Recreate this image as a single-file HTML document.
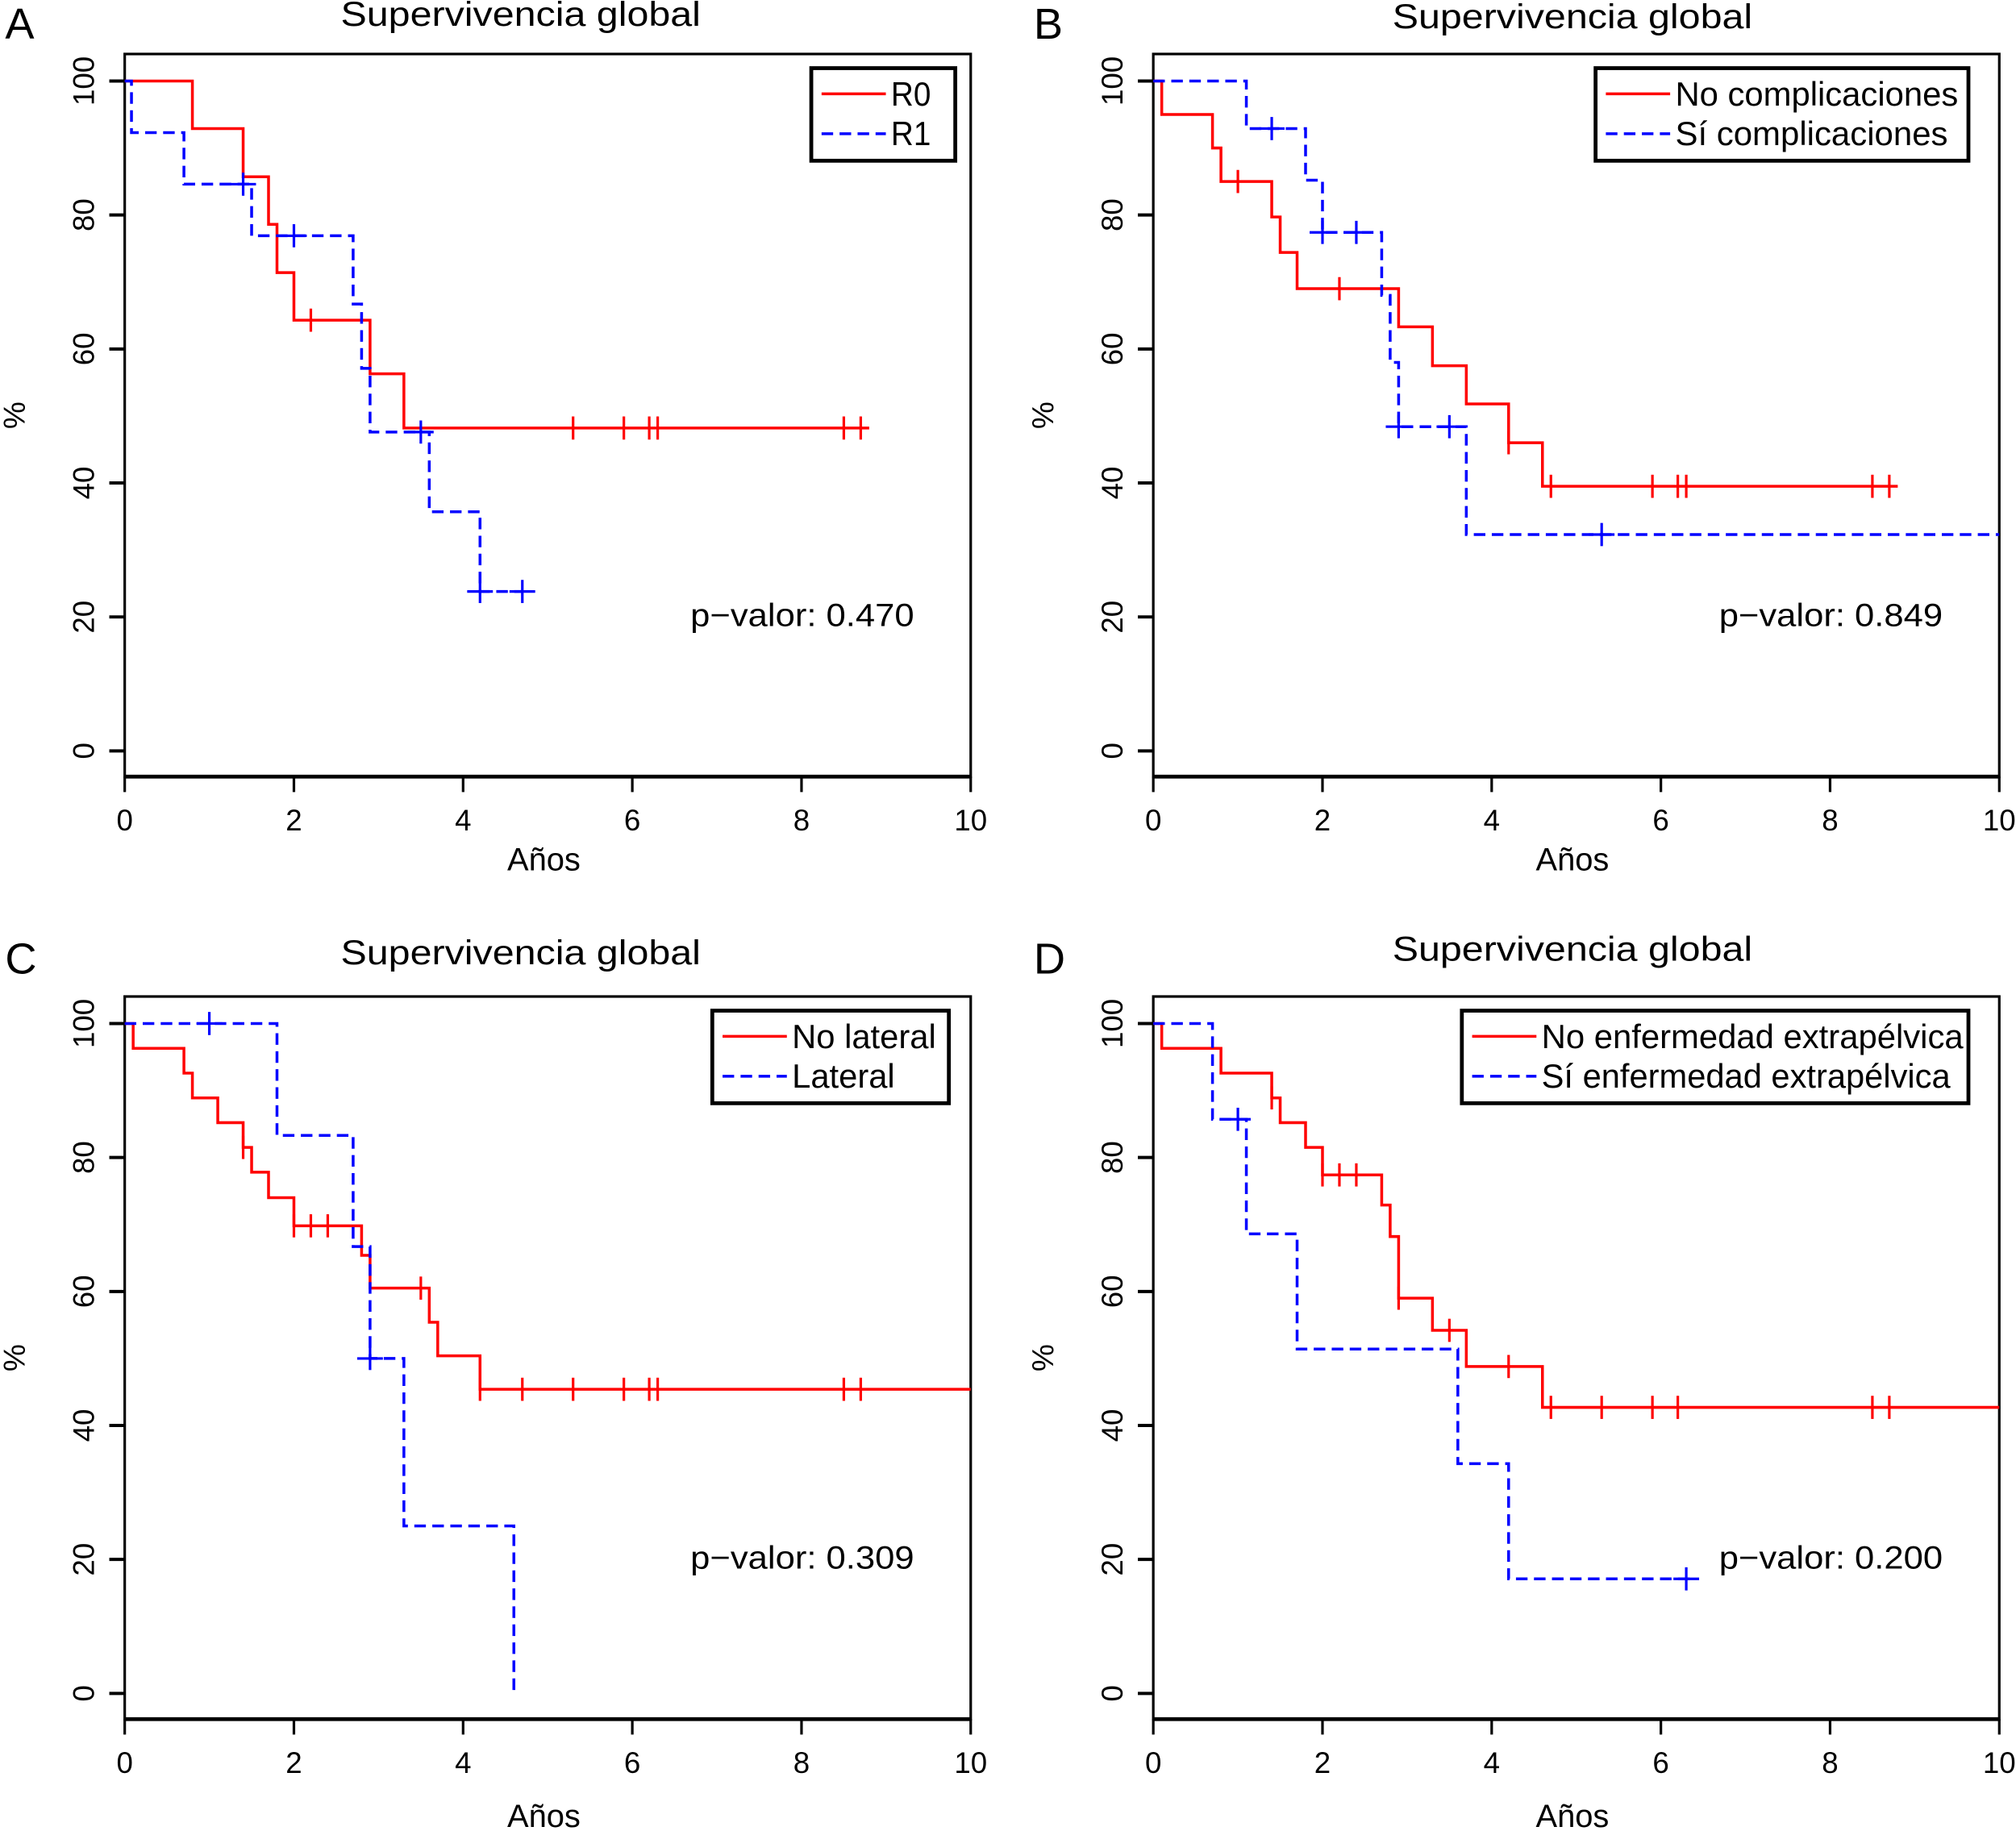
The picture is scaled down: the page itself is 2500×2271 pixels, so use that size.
<!DOCTYPE html>
<html><head><meta charset="utf-8"><style>
html,body{margin:0;padding:0;background:#fff}
svg{display:block}
text{font-family:"Liberation Sans",sans-serif;fill:#000}
</style></head><body>
<svg id="chart" width="2500" height="2271" viewBox="0 0 1568 1424" preserveAspectRatio="none" xmlns="http://www.w3.org/2000/svg"></svg>
<script>
// ---- data: each series = drop times, levels after drop, end time, censor times ----
const aR0Times=[0.8,1.4,1.7,1.8,2.0,2.9,3.3];
const aR0Vals=[92.9,85.7,78.6,71.4,64.3,56.3,48.2];
const aR0End=8.8;
const aR0Cens=[2.2,5.3,5.9,6.2,6.3,8.5,8.7];
const aR1Times=[0.08,0.7,1.5,2.7,2.8,2.9,3.6,4.2];
const aR1Vals=[92.3,84.6,76.9,66.7,57.1,47.6,35.7,23.8];
const aR1End=4.7;
const aR1Cens=[1.4,2.0,3.5,4.2,4.7];

const bNoTimes=[0.1,0.7,0.8,1.4,1.5,1.7,2.9,3.3,3.7,4.2,4.6];
const bNoVals=[95,90,85,79.7,74.4,69,63.3,57.5,51.8,46,39.5];
const bNoEnd=8.8;
const bNoCens=[1.0,2.2,4.2,4.7,5.9,6.2,6.3,8.5,8.7];
const bSiTimes=[1.1,1.8,2.0,2.7,2.8,2.9,3.7];
const bSiVals=[92.9,85.2,77.4,68,58,48.4,32.3];
const bSiEnd=10;
const bSiCens=[1.4,2.0,2.4,2.9,3.5,5.3];

const cNoTimes=[0.1,0.7,0.8,1.1,1.4,1.5,1.7,2.0,2.8,2.9,3.6,3.7,4.2];
const cNoVals=[96.3,92.6,88.9,85.2,81.5,77.8,74,69.8,65.4,60.5,55.4,50.4,45.4];
const cNoEnd=10;
const cNoCens=[1.4,2.0,2.2,2.4,3.5,4.2,4.7,5.3,5.9,6.2,6.3,8.5,8.7];
const cLaTimes=[1.8,2.7,2.8,2.9,3.3,4.6];
const cLaVals=[83.3,66.7,66.7,50,25,0];
const cLaEnd=4.6;
const cLaCens=[1.0,2.9];

const dNoTimes=[0.1,0.8,1.4,1.5,1.8,2.0,2.7,2.8,2.9,3.3,3.7,4.6];
const dNoVals=[96.3,92.6,88.9,85.2,81.5,77.4,72.9,68.2,59,54.2,48.8,42.7];
const dNoEnd=10;
const dNoCens=[1.4,2.0,2.2,2.4,2.9,3.5,4.2,4.7,5.3,5.9,6.2,8.5,8.7];
const dSiTimes=[0.7,1.1,1.7,3.6,4.2];
const dSiVals=[85.7,68.6,51.4,34.3,17.1];
const dSiEnd=6.4;
const dSiCens=[1.0,6.3];

const xTicks=[0,2,4,6,8,10];
const yTicks=[0,20,40,60,80,100];

const NS="http://www.w3.org/2000/svg";
const svg=document.getElementById('chart');
function mk(tag,attrs,parent){const e=document.createElementNS(NS,tag);for(const k in attrs)e.setAttribute(k,attrs[k]);(parent||svg).appendChild(e);return e;}
function txt(s,x,y,size,parent,extra){const t=mk('text',Object.assign({x:x,y:y,'font-size':size},extra||{}),parent);t.textContent=s;return t;}

function panel(o){
  const g=mk('g',{});
  
  
  const L=o.x0, R=o.x0+658, T=o.top, B=o.top+562;
  const y100=T+21, y0=T+542;
  const X=v=>L+v*65.8, Y=v=>y0-(v/100)*(y0-y100);
  const lt=txt(o.id,o.x0-93,o.letterY,34,g);
  
  
  const tt=txt('Supervivencia global',o.titleX,o.titleY,27,g,{'text-anchor':'middle',textLength:280,lengthAdjust:'spacingAndGlyphs'});
  
  
  const box=mk('rect',{x:L,y:T,width:658,height:562,fill:'none',stroke:'#000','stroke-width':2},g);
  
  
  mk('line',{x1:L,x2:R,y1:B,y2:B,stroke:'#000','stroke-width':3},g);
  yTicks.forEach(v=>{
    mk('line',{x1:L-12,x2:L,y1:Y(v),y2:Y(v),stroke:'#000','stroke-width':2.5},g);
    const t=txt(String(v),0,0,23,g,{'text-anchor':'middle',transform:`translate(${L-24},${Y(v)}) rotate(-90)`});
    
    
  });
  xTicks.forEach(v=>{
    mk('line',{x1:X(v),x2:X(v),y1:B,y2:B+12,stroke:'#000','stroke-width':2},g);
    const t=txt(String(v),X(v),B+42,23,g,{'text-anchor':'middle'});
    
    
  });
  const xt=txt('Años',(L+R)/2-3,o.xtY,25,g,{'text-anchor':'middle'});
  
  
  const yt=txt('%',0,0,24,g,{'text-anchor':'middle',transform:`translate(${L-78},${(T+B)/2}) rotate(-90)`});
  
  
  o.series.forEach(s=>{
    let d=`M${X(0)},${Y(100)}`;
    s.times.forEach((t,i)=>{d+=` H${X(t)} V${Y(s.vals[i])}`;});
    d+=` H${X(s.end)}`;
    const p=mk('path',{d:d,fill:'none',stroke:s.color,'stroke-width':2.2,'stroke-dasharray':s.dash?'9,5':'none'},g);
    
    
    s.cens.forEach(c=>{
      let lvl=100;s.times.forEach((t,i)=>{if(t<=c)lvl=s.vals[i];});
      const m=mk('line',{x1:X(c),x2:X(c),y1:Y(lvl)-9,y2:Y(lvl)+9,stroke:s.color,'stroke-width':2},g);
      
      
      if(s.dash) mk('line',{x1:X(c)-10,x2:X(c)+10,y1:Y(lvl),y2:Y(lvl),stroke:s.color,'stroke-width':2},g);
    });
  });
  const lg=mk('g',{},g);
  
  
  mk('rect',{x:o.leg.x,y:T+11,width:o.leg.w,height:72,fill:'#fff',stroke:'#000','stroke-width':3},lg);
  o.series.forEach((s,i)=>{
    const yy=T+31+i*31;
    mk('line',{x1:o.leg.x+8,x2:o.leg.x+58,y1:yy,y2:yy,stroke:s.color,'stroke-width':2.2,'stroke-dasharray':s.dash?'9,5':'none'},lg);
    const t=txt(s.label,o.leg.x+62,yy+9,26,lg,{textLength:o.leg.tl[i],lengthAdjust:'spacingAndGlyphs'});
    
    
  });
  const pv=txt('p\u2212valor:  '+o.p,R-44,o.pYpx,25,g,{'text-anchor':'end','xml:space':'preserve',textLength:174,lengthAdjust:'spacingAndGlyphs'});
  
  
}

panel({id:'A',x0:97,top:42,letterY:30,titleX:405,titleY:20,xtY:677,p:'0.470',pYpx:487,leg:{x:631,w:112,tl:[31,31]},
  series:[{name:'r0',label:'R0',color:'#ff0000',dash:false,times:aR0Times,vals:aR0Vals,end:aR0End,cens:aR0Cens},
          {name:'r1',label:'R1',color:'#0000ff',dash:true,times:aR1Times,vals:aR1Vals,end:aR1End,cens:aR1Cens}]});
panel({id:'B',x0:897,top:42,letterY:30,titleX:1223,titleY:22,xtY:677,p:'0.849',pYpx:487,leg:{x:1241,w:290,tl:[220,212]},
  series:[{name:'no-complicaciones',label:'No complicaciones',color:'#ff0000',dash:false,times:bNoTimes,vals:bNoVals,end:bNoEnd,cens:bNoCens},
          {name:'si-complicaciones',label:'Sí complicaciones',color:'#0000ff',dash:true,times:bSiTimes,vals:bSiVals,end:bSiEnd,cens:bSiCens}]});
panel({id:'C',x0:97,top:775,letterY:757,titleX:405,titleY:750,xtY:1421,p:'0.309',pYpx:1220,leg:{x:554,w:184,tl:[112,80]},
  series:[{name:'no-lateral',label:'No lateral',color:'#ff0000',dash:false,times:cNoTimes,vals:cNoVals,end:cNoEnd,cens:cNoCens},
          {name:'lateral',label:'Lateral',color:'#0000ff',dash:true,times:cLaTimes,vals:cLaVals,end:cLaEnd,cens:cLaCens}]});
panel({id:'D',x0:897,top:775,letterY:757,titleX:1223,titleY:747,xtY:1421,p:'0.200',pYpx:1220,leg:{x:1137,w:394,tl:[328,318]},
  series:[{name:'no-extrapelvica',label:'No enfermedad extrapélvica',color:'#ff0000',dash:false,times:dNoTimes,vals:dNoVals,end:dNoEnd,cens:dNoCens},
          {name:'si-extrapelvica',label:'Sí enfermedad extrapélvica',color:'#0000ff',dash:true,times:dSiTimes,vals:dSiVals,end:dSiEnd,cens:dSiCens}]});
</script>
</body></html>
